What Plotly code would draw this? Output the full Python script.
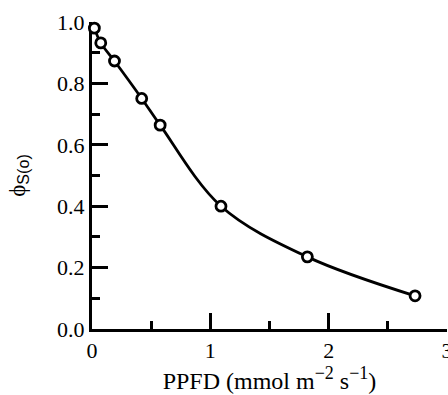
import plotly.graph_objects as go

ppfd = [0.02, 0.074, 0.19, 0.42, 0.576, 1.09, 1.82, 2.73]
phi_s = [0.98, 0.932, 0.873, 0.751, 0.664, 0.400, 0.235, 0.108]

x_ticks = [0, 1, 2, 3]
y_ticks = [0.0, 0.2, 0.4, 0.6, 0.8, 1.0]
y_tick_text = ["0.0", "0.2", "0.4", "0.6", "0.8", "1.0"]

serif = "Liberation Serif"

fig = go.Figure()
fig.add_trace(go.Scatter(
    x=ppfd, y=phi_s, mode="lines+markers",
    line=dict(color="black", width=2.8, shape="spline", smoothing=1.0),
    marker=dict(symbol="circle", size=10, color="white",
                line=dict(color="black", width=2.8)),
    cliponaxis=False, showlegend=False,
))

axis_common = dict(
    showgrid=False, zeroline=False, showline=True, linecolor="black",
    linewidth=3, ticks="inside", ticklen=16, tickwidth=3, tickcolor="black",
    tickfont=dict(family=serif, size=22, color="black"),
    layer="below traces", ticklabeloverflow="allow",
)

fig.update_xaxes(
    range=[0, 3], tickvals=x_ticks, ticktext=[str(v) for v in x_ticks],
    minor=dict(ticks="inside", dtick=0.5, ticklen=8, tickwidth=2.5, tickcolor="black"),
    title=dict(text="PPFD (mmol m<sup><span style=\"font-size:18px\">\u22122</span></sup> "
                    "s<sup><span style=\"font-size:18px\">\u22121</span></sup>)",
               font=dict(family=serif, size=24, color="black"), standoff=9),
    automargin="bottom",
    **axis_common,
)
fig.update_yaxes(
    range=[0, 1], tickvals=y_ticks, ticktext=y_tick_text,
    minor=dict(ticks="inside", dtick=0.1, ticklen=8, tickwidth=2.5, tickcolor="black"),
    title=dict(text="\u03d5<sub><span style=\"font-family:Liberation Sans\">S(o)</span></sub>",
               font=dict(family=serif, size=23, color="black"), standoff=26),
    automargin="left",
    **axis_common,
)

fig.update_layout(
    template="none",
    width=448, height=395,
    margin=dict(l=92, r=1, t=22, b=66),
    paper_bgcolor="white", plot_bgcolor="white",
    font=dict(family=serif, color="black"),
)

fig.write_html("out.html")
